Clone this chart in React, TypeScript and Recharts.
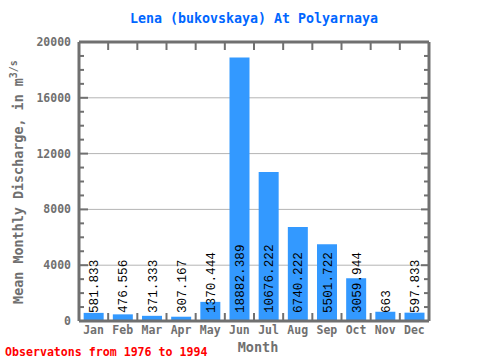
import { ComposedChart, Bar, Line, XAxis, YAxis, CartesianGrid, LabelList } from 'recharts'

// Lena (bukovskaya) at Polyarnaya — mean monthly discharge, 1976-1994
const MONTHS = ['Jan', 'Feb', 'Mar', 'Apr', 'May', 'Jun', 'Jul', 'Aug', 'Sep', 'Oct', 'Nov', 'Dec']
const DISCHARGE = [581.833, 476.556, 371.333, 307.167, 1370.444, 18882.389, 10676.222, 6740.222, 5501.722, 3059.944, 663, 597.833]
const Y_MINOR = [0, 1000, 2000, 3000, 4000, 5000, 6000, 7000, 8000, 9000, 10000, 11000, 12000, 13000, 14000, 15000, 16000, 17000, 18000, 19000, 20000]
const GRID_VALUES = [4000, 8000, 12000, 16000]

const data = MONTHS.map((month, i) => ({ month, value: DISCHARGE[i] }))

const AXIS = '#707070'
const GRID = '#b4b4b4'
const BAR = '#3399ff'
const MONO = '"DejaVu Sans Mono", monospace'
const PLOT_W = 350
const axisLine = { stroke: AXIS, strokeWidth: 3 }

const isMajor = (v: number) => v % 4000 === 0

const halfBand = (p: any) => {
  const n = p.visibleTicksCount || MONTHS.length
  const w = p.width && p.width > 50 ? p.width : PLOT_W
  return w / n / 2
}

// bottom: month label + inward tick at each month boundary
const BottomTick = (p: any) => {
  const h = halfBand(p)
  const base = p.y - 4
  const last = p.payload.index === MONTHS.length - 1
  return (
    <g>
      <line x1={p.x - h} x2={p.x - h} y1={base} y2={base - 8} stroke={AXIS} strokeWidth={2} />
      {last && <line x1={p.x + h} x2={p.x + h} y1={base} y2={base - 8} stroke={AXIS} strokeWidth={2} />}
      <text x={p.x} y={p.y} dy="0.75em" textAnchor="middle" fill={AXIS} fontFamily={MONO} fontSize={11.5} fontWeight="bold">
        {p.payload.value}
      </text>
    </g>
  )
}

const TopTick = (p: any) => {
  const h = halfBand(p)
  const last = p.payload.index === MONTHS.length - 1
  return (
    <g>
      <line x1={p.x - h} x2={p.x - h} y1={p.y} y2={p.y + 8} stroke={AXIS} strokeWidth={2} />
      {last && <line x1={p.x + h} x2={p.x + h} y1={p.y} y2={p.y + 8} stroke={AXIS} strokeWidth={2} />}
    </g>
  )
}

const LeftTick = (p: any) => {
  const v = p.payload.value
  const ax = p.x + 8
  return (
    <g>
      <line x1={ax} x2={ax + (isMajor(v) ? 9 : 5)} y1={p.y} y2={p.y} stroke={AXIS} strokeWidth={2} />
      {isMajor(v) && (
        <text x={p.x} y={p.y} dy="0.35em" textAnchor="end" fill={AXIS} fontFamily={MONO} fontSize={11.5} fontWeight="bold">
          {v}
        </text>
      )}
    </g>
  )
}

const RightTick = (p: any) => {
  const v = p.payload.value
  return <line x1={p.x} x2={p.x - (isMajor(v) ? 8 : 5)} y1={p.y} y2={p.y} stroke={AXIS} strokeWidth={2} />
}

const BarValue = (props: any) => {
  const { x, y, width, height, value } = props
  const cx = x + width / 2 + 4.5
  const by = y + height - 8
  return (
    <text
      transform={`translate(${cx},${by}) rotate(-90)`}
      textAnchor="start"
      fontFamily='"Liberation Mono", monospace'
      fontSize={12.7}
      fill="#000"
    >
      {String(value)}
    </text>
  )
}

export default function App() {
  return (
    <div style={{ position: 'absolute', left: 0, top: 0, width: 480, height: 360 }}>
      <ComposedChart
        width={480}
        height={360}
        data={data}
        margin={{ top: 41, right: 50, left: 0, bottom: 19 }}
        barCategoryGap="16%"
      >
        <CartesianGrid xAxisId="cat" yAxisId="v" vertical={false} horizontalValues={GRID_VALUES} stroke={GRID} />
        <XAxis
          xAxisId="cat"
          dataKey="month"
          height={20}
          tickLine={false}
          tickSize={0}
          tickMargin={4}
          axisLine={axisLine}
          tick={BottomTick}
          interval={0}
        />
        <XAxis
          xAxisId="top"
          dataKey="month"
          orientation="top"
          height={1}
          tickLine={false}
          tickSize={0}
          tickMargin={0}
          axisLine={axisLine}
          tick={TopTick}
          interval={0}
        />
        <YAxis
          yAxisId="v"
          width={79}
          domain={[0, 20000]}
          ticks={Y_MINOR}
          interval={0}
          tickLine={false}
          tickSize={0}
          tickMargin={8}
          axisLine={axisLine}
          tick={LeftTick}
        />
        <YAxis
          yAxisId="r"
          orientation="right"
          width={1}
          domain={[0, 20000]}
          ticks={Y_MINOR}
          interval={0}
          tickLine={false}
          tickSize={0}
          tickMargin={0}
          axisLine={axisLine}
          tick={RightTick}
        />
        <Bar xAxisId="cat" yAxisId="v" dataKey="value" fill={BAR} isAnimationActive={false}>
          <LabelList dataKey="value" content={BarValue} />
        </Bar>
        {/* invisible series so the top and right frame axes get a scale */}
        <Line xAxisId="top" yAxisId="r" dataKey="value" stroke="none" dot={false} activeDot={false} isAnimationActive={false} />
      </ComposedChart>
      <svg width={480} height={360} style={{ position: 'absolute', left: 0, top: 0, pointerEvents: 'none' }}>
        <text x={254} y={23} textAnchor="middle" fontFamily={MONO} fontSize={13.3} fontWeight="bold" fill="#0066ff">
          Lena (bukovskaya) At Polyarnaya
        </text>
        <text x={258} y={352} textAnchor="middle" fontFamily={MONO} fontSize={13.5} fontWeight="bold" fill={AXIS}>
          Month
        </text>
        <text
          transform="translate(23,182) rotate(-90)"
          textAnchor="middle"
          fontFamily={MONO}
          fontSize={13.4}
          fontWeight="bold"
          fill={AXIS}
        >
          Mean Monthly Discharge, in  m
          <tspan fontSize={10} dy={-6}>3/s</tspan>
        </text>
        <text x={5} y={356} fontFamily={MONO} fontSize={11.6} fontWeight="bold" fill="#ff0000">
          Observatons from 1976 to 1994
        </text>
      </svg>
    </div>
  )
}
